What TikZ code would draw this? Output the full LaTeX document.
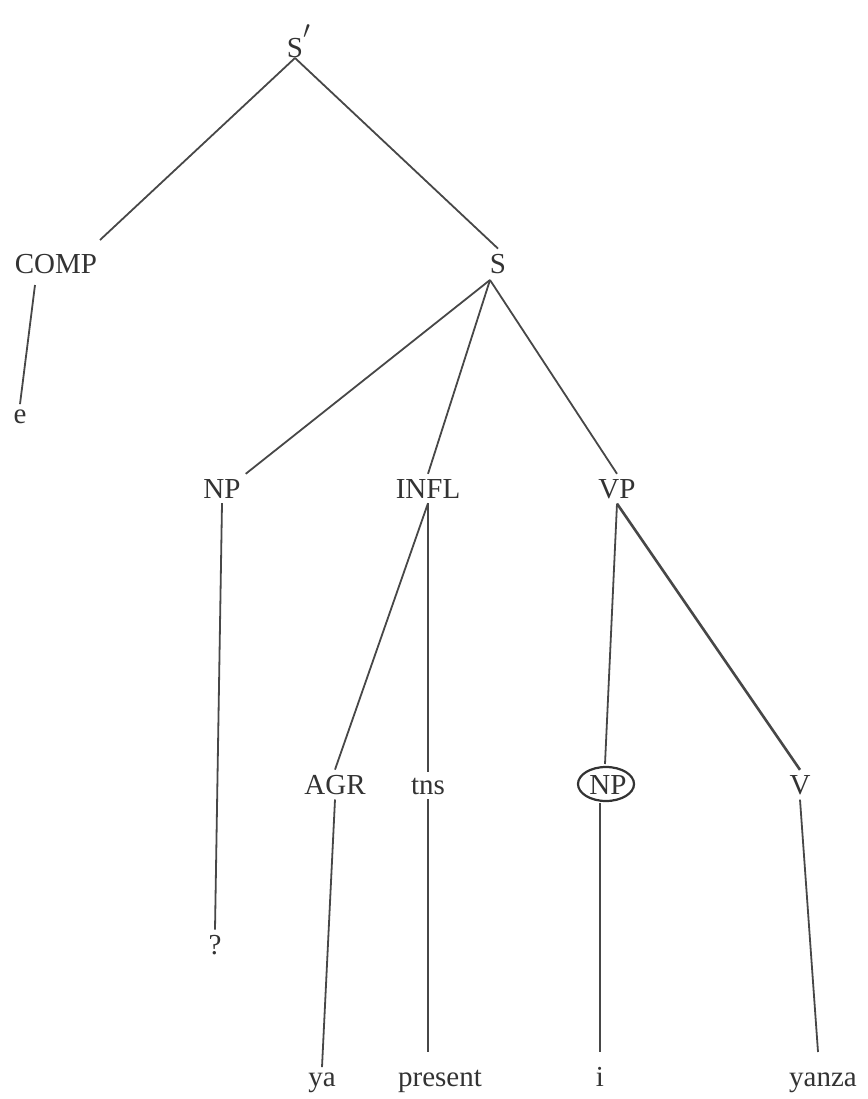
\documentclass[tikz,border=0pt]{standalone}
\usepackage{fontspec}
\setmainfont{Liberation Serif}
\begin{document}
\begin{tikzpicture}[x=1pt,y=-1pt,
  lbl/.style={font=\fontsize{29}{31}\selectfont, text=black!80, inner sep=5pt, anchor=base},
  br/.style={draw=black!72, line width=1.8pt}]
\useasboundingbox (0,0) rectangle (867,1099);
\node[lbl] (sp) at (295,58) {S\rlap{\raisebox{10pt}{\fontsize{34}{36}\selectfont$'$}}};
\node[lbl] (comp) at (56,273) {COMP};
\node[lbl] (s) at (498,273) {S};
\node[lbl] (e) at (20,423) {e};
\node[lbl] (np) at (222,498) {NP};
\node[lbl] (infl) at (428,498) {INFL};
\node[lbl] (vp) at (617,498) {VP};
\node[lbl] (agr) at (335,794) {AGR};
\node[lbl] (tns) at (428,794) {tns};
\node[lbl] (np2) at (608,794) {NP};
\node[lbl] (v) at (800,794) {V};
\node[lbl] (q) at (215,954) {?};
\node[lbl] (ya) at (322,1086) {ya};
\node[lbl] (pres) at (440,1086) {present};
\node[lbl] (i) at (600,1086) {i};
\node[lbl] (yanza) at (823,1086) {yanza};
\draw[black!80, line width=2.2pt] ([yshift=10pt,xshift=-2pt]np2.base) ellipse [x radius=28pt, y radius=17pt];
\coordinate (spb) at (295,58);
\draw[br] (spb) -- (100,240);
\draw[br] (spb) -- (s.north);
\draw[br] (35,285) -- (e.north);
\draw[br] (490,280) -- (np.north east);
\draw[br] (490,280) -- (infl.north);
\draw[br] (490,280) -- (vp.north);
\draw[br] (np.south) -- (q.north);
\draw[br] (infl.south) -- (agr.north);
\draw[br] (infl.south) -- (tns.north);
\draw[br] (vp.south) -- (605,764);
\draw[black!72, line width=2.6pt] (vp.south) -- (v.north);
\draw[br] (agr.south) -- (ya.north);
\draw[br] (tns.south) -- (428,1052);
\draw[br] (600,803) -- (600,1052);
\draw[br] (v.south) -- (818,1052);
\end{tikzpicture}
\end{document}
